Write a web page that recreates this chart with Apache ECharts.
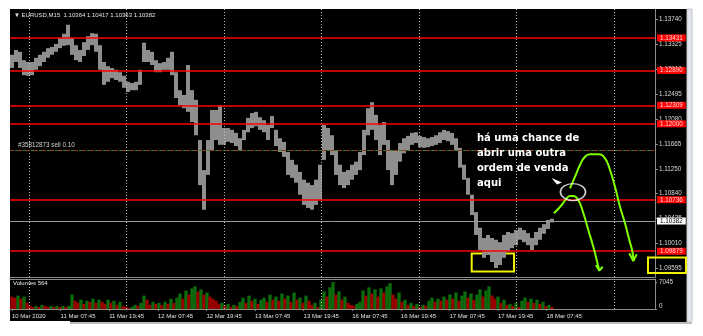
<!DOCTYPE html>
<html><head><meta charset="utf-8">
<script src="https://cdn.jsdelivr.net/npm/echarts@6/dist/echarts.min.js"></script>
<style>html,body{margin:0;padding:0;background:#fff}#c{width:703px;height:336px}</style>
</head><body><div id="c"></div>
<script>
// ---------- data ----------
const symbolTitle = '\u25BC EURUSD,M15  1.10364 1.10417 1.10363 1.10382';
const volumeTitle = 'Volumes 564';
const timeLabels = ['10 Mar 2020','11 Mar 07:45','11 Mar 19:45','12 Mar 07:45','12 Mar 19:45','13 Mar 07:45','13 Mar 19:45','16 Mar 07:45','16 Mar 19:45','17 Mar 07:45','17 Mar 19:45','18 Mar 07:45'];
const priceTicks = [1.09595,1.10010,1.10425,1.10840,1.11250,1.11665,1.12080,1.12495,1.12910,1.13325,1.13740];
const levelPrices = [1.13431,1.12890,1.12309,1.12000,1.10736,1.09879];
const currentPrice = 1.10382;
const orderPrice = 1.11553;
const orderLabel = '#35812873 sell 0.10';
const volumeTicks = [0,7045];

// sampled M15 bars (one sample every 4 bars): high / low
const priceHigh = [
1.1315,1.1323,1.1320,1.1306,1.1303,1.1303,1.1310,1.1315,1.1320,1.1326,
1.1328,1.1333,1.1343,1.1350,1.1365,1.1343,1.1331,1.1323,1.1336,1.1346,
1.1351,1.1350,1.1331,1.1303,1.1296,1.1293,1.1290,1.1286,1.1280,1.1270,
1.1268,1.1270,1.1290,1.1335,1.1323,1.1320,1.1306,1.1301,1.1303,1.1310,
1.1320,1.1286,1.1256,1.1248,1.1298,1.1256,1.1240,1.1173,1.1123,1.1173,
1.1223,1.1223,1.1231,1.1193,1.1193,1.1190,1.1185,1.1176,1.1190,1.1210,
1.1218,1.1220,1.1211,1.1206,1.1198,1.1213,1.1190,1.1176,1.1170,1.1153,
1.1140,1.1132,1.1120,1.1107,1.1102,1.1098,1.1107,1.1132,1.1198,1.1193,
1.1181,1.1156,1.1132,1.1120,1.1123,1.1132,1.1137,1.1153,1.1190,1.1226,
1.1236,1.1215,1.1198,1.1203,1.1173,1.1156,1.1156,1.1168,1.1176,1.1180,
1.1185,1.1186,1.1180,1.1178,1.1176,1.1178,1.1181,1.1186,1.1190,1.1188,
1.1185,1.1176,1.1160,1.1132,1.1110,1.1082,1.1053,1.1027,1.1010,1.1015,
1.1010,1.1007,1.1003,1.1015,1.1020,1.1018,1.1023,1.1027,1.1023,1.1018,
1.1010,1.1020,1.1027,1.1033,1.1040,1.1042];
const priceLow = [
1.1293,1.1303,1.1293,1.1281,1.1280,1.1281,1.1290,1.1296,1.1303,1.1310,
1.1315,1.1320,1.1326,1.1330,1.1331,1.1315,1.1306,1.1303,1.1313,1.1323,
1.1331,1.1320,1.1290,1.1265,1.1270,1.1276,1.1273,1.1270,1.1260,1.1253,
1.1256,1.1256,1.1265,1.1303,1.1303,1.1298,1.1286,1.1286,1.1290,1.1290,
1.1281,1.1243,1.1231,1.1226,1.1220,1.1203,1.1181,1.1098,1.1057,1.1115,
1.1156,1.1173,1.1165,1.1165,1.1170,1.1168,1.1163,1.1156,1.1173,1.1186,
1.1193,1.1196,1.1190,1.1186,1.1173,1.1193,1.1163,1.1153,1.1145,1.1115,
1.1110,1.1102,1.1082,1.1065,1.1060,1.1057,1.1065,1.1073,1.1140,1.1156,
1.1148,1.1115,1.1098,1.1093,1.1098,1.1107,1.1115,1.1123,1.1148,1.1181,
1.1190,1.1173,1.1148,1.1165,1.1123,1.1098,1.1115,1.1137,1.1151,1.1156,
1.1165,1.1168,1.1161,1.1160,1.1161,1.1163,1.1165,1.1168,1.1173,1.1171,
1.1165,1.1156,1.1127,1.1107,1.1082,1.1048,1.1015,1.0990,1.0977,1.0982,
1.0970,1.0960,1.0965,1.0977,1.0987,1.0993,1.0998,1.1007,1.1003,1.0998,
1.0990,1.0998,1.1007,1.1017,1.1025,1.1036];

// tick volumes (one sample every 3 bars)
const volumes = [
3240,2970,3510,2700,3240,1620,810,540,810,540,
1080,810,540,810,540,810,540,810,540,810,
3780,2160,1620,2430,1350,2160,1890,2700,1620,2430,
1890,1350,2430,1620,2160,1080,1890,810,540,270,
540,1080,810,1620,3510,2430,1080,1890,1350,1620,
1080,1890,1350,2700,1620,2970,4050,2700,4860,3780,
5400,5940,4590,5130,3780,4320,3240,2700,2160,1350,
1620,810,1350,540,1080,810,1890,2970,1620,3510,
2160,2700,1350,2430,2970,1890,3780,2430,3240,2160,
4050,2700,3510,1890,4320,2430,2970,1620,3510,2160,
1080,1620,540,2430,4590,3240,5670,7045,3780,4590,
2430,3240,1620,1080,810,1350,1890,4860,3510,5670,
4050,5130,3240,5400,4320,5940,6750,3780,2700,4320,
1890,2430,1080,1620,810,1350,540,1080,810,2160,
2970,1890,2700,2160,3240,2430,3780,2700,4320,2160,
3510,4590,2970,4050,2430,3780,5130,3240,4860,5940,
3510,2700,3240,1620,2430,1080,1350,810,1620,540,
2160,2970,1890,2700,1620,2430,1350,1890,810,1080,
540];

// hand-drawn forecast annotations, in (bar, price)
const forecastA = [[542,1.10510],[549.7,1.10649],[554.7,1.10760],[558,1.10799],[561.3,1.10799],[566.3,1.10732],[571.3,1.10515],[576.3,1.10233],[581.3,1.09955],[584.7,1.09733],[587.3,1.09560]];
const forecastAHead = [[584,1.09650],[587.3,1.09555],[590.7,1.09621]];
const forecastB = [[558,1.10927],[563,1.11120],[568,1.11315],[573,1.11453],[578,1.11493],[586.3,1.11493],[593,1.11426],[598,1.11231],[603,1.10953],[608,1.10620],[613,1.10344],[617.3,1.10066],[620.7,1.09845],[621.3,1.09720]];
const forecastBHead = [[617.3,1.09845],[621.3,1.09715],[624.7,1.09828]];
const sellZone = [[561,1.10865]];
const lowZone = [[459.7,1.09841],[502,1.09542]];
const noteText = 'h\u00e1 uma chance de\nabrir uma outra\nordem de venda\naqui';

// ---------- layout constants ----------
const priceStep = 4, volStep = 3, timeTickStep = 48.6;
const gridBars = [17,114.5,212,309.5,407,504.5,602];
const tickBars = timeLabels.map((_, k) => +(k * timeTickStep).toFixed(1));

const priceData = priceHigh.map((h, i) => [i * priceStep, priceLow[i], h]);
const volData = volumes.map((v, j) => [j * volStep, v]);

const FONT = 'Liberation Sans';
const vLines = gridBars.map(b => ({xAxis: b, lineStyle: {color: '#bdbdbd', width: 1, type: [1, 2]}, label: {show: false}}));
const levelLines = levelPrices.map(p => ({
  yAxis: p, lineStyle: {color: '#ff0000', width: 1.5, type: 'solid'},
  label: {show: true, position: 'end', distance: 2, formatter: p.toFixed(5), backgroundColor: '#ff0000',
          color: '#ffd8d8', fontSize: 6.3, fontFamily: FONT, padding: [1, 3, 0, 3]}
}));

const chart = echarts.init(document.getElementById('c'));
const option = {
  animation: false,
  backgroundColor: '#ffffff',
  textStyle: {fontFamily: FONT},
  title: [
    {text: symbolTitle, left: 14, top: 12, padding: 0, textStyle: {color: '#e6e6e6', fontSize: 6, fontWeight: 'normal', fontFamily: FONT}},
    {text: volumeTitle, left: 13, top: 280, padding: 0, textStyle: {color: '#e6e6e6', fontSize: 6, fontWeight: 'normal', fontFamily: FONT}}
  ],
  grid: [
    {left: 10, right: 48, top: 9, bottom: 59},
    {left: 10, right: 48, top: 279, bottom: 27}
  ],
  xAxis: [
    {gridIndex: 0, type: 'value', min: -2, max: 643, axisLine: {show: true, onZero: false, lineStyle: {color: '#8c8c8c'}},
     axisTick: {show: false}, axisLabel: {show: false}, splitLine: {show: false}},
    {gridIndex: 1, type: 'value', min: -2, max: 643, position: 'bottom',
     axisLine: {show: true, onZero: false, lineStyle: {color: '#8c8c8c'}},
     axisTick: {show: true, length: 2, customValues: tickBars, lineStyle: {color: '#8c8c8c'}},
     axisLabel: {customValues: tickBars, formatter: v => timeLabels[Math.round(v / timeTickStep)] || '',
                 align: 'left', margin: 4, color: '#e0e0e0', fontSize: 6, fontFamily: FONT},
     splitLine: {show: false}},
    {gridIndex: 1, type: 'value', min: -2, max: 643, position: 'top',
     axisLine: {show: true, onZero: false, lineStyle: {color: '#8c8c8c'}}, axisTick: {show: false}, axisLabel: {show: false}, splitLine: {show: false}}
  ],
  yAxis: [
    {gridIndex: 0, type: 'value', position: 'right', min: 1.0945, max: 1.13912,
     axisLine: {show: true, onZero: false, lineStyle: {color: '#8c8c8c'}},
     axisTick: {show: true, length: 3, customValues: priceTicks, lineStyle: {color: '#8c8c8c'}},
     axisLabel: {customValues: priceTicks, formatter: v => v.toFixed(5), color: '#dcdcdc', fontSize: 6.3, margin: 4, fontFamily: FONT},
     splitLine: {show: false}},
    {gridIndex: 1, type: 'value', position: 'right', min: 0, max: 7860,
     axisLine: {show: true, onZero: false, lineStyle: {color: '#8c8c8c'}},
     axisTick: {show: true, length: 2, customValues: volumeTicks, lineStyle: {color: '#8c8c8c'}},
     axisLabel: {customValues: volumeTicks, margin: 4,
                 formatter: v => v === 0 ? '{lo|0}' : '{hi|' + v + '}',
                 rich: {lo: {color: '#dcdcdc', fontSize: 6.3, fontFamily: FONT, padding: [0, 0, 6, 0]},
                        hi: {color: '#dcdcdc', fontSize: 6.3, fontFamily: FONT}}},
     splitLine: {show: false}}
  ],
  series: [
    {
      name: 'EURUSD', type: 'custom', xAxisIndex: 0, yAxisIndex: 0, z: 3,
      data: priceData, encode: {x: 0, y: [1, 2]},
      renderItem: function (params, api) {
        const x = api.value(0);
        const lo = api.coord([x, api.value(1)]);
        const hi = api.coord([x, api.value(2)]);
        return {type: 'rect', shape: {x: lo[0] - 2, y: hi[1], width: 4, height: Math.max(1, lo[1] - hi[1])},
                style: {fill: '#8e8e8e'}};
      },
      markLine: {
        silent: true, symbol: ['none', 'none'], precision: 6, animation: false, label: {show: false},
        data: vLines.concat(levelLines).concat([
          {yAxis: currentPrice, lineStyle: {color: '#9a9a9a', width: 1, type: 'solid'},
           label: {show: true, position: 'end', distance: 2, formatter: currentPrice.toFixed(5), backgroundColor: '#ffffff',
                   color: '#000000', fontSize: 6.3, fontFamily: FONT, padding: [1, 3, 0, 3]}},
          {yAxis: orderPrice, lineStyle: {color: '#9a3c14', width: 1, type: [4, 4]},
           label: {show: true, position: 'insideStartTop', distance: 2, formatter: orderLabel, color: '#cfcfcf', fontSize: 6.3, fontFamily: FONT, padding: [0, 0, 0, 6]}},
          {yAxis: orderPrice, lineStyle: {color: '#2f7a2f', width: 1, type: [3, 5], dashOffset: -5}, label: {show: false}}
        ])
      },
      markArea: {
        silent: true, precision: 6,
        itemStyle: {color: 'rgba(0,0,0,0)', borderColor: '#f2f200', borderWidth: 2},
        data: [[{xAxis: lowZone[0][0], yAxis: lowZone[0][1]}, {xAxis: lowZone[1][0], yAxis: lowZone[1][1]}]]
      }
    },
    {
      name: 'Volumes', type: 'bar', xAxisIndex: 1, yAxisIndex: 1, barWidth: 3.4, data: volData, z: 3,
      itemStyle: {color: p => (p.dataIndex > 0 && volumes[p.dataIndex] > volumes[p.dataIndex - 1]) ? '#0b6a0b' : '#9a0000'},
      markLine: {silent: true, symbol: ['none', 'none'], precision: 6, animation: false, label: {show: false}, data: vLines}
    },
    {type: 'line', xAxisIndex: 0, yAxisIndex: 0, data: forecastA, smooth: 0.5, symbol: 'none', z: 6,
     lineStyle: {color: '#7fff00', width: 2}},
    {type: 'line', xAxisIndex: 0, yAxisIndex: 0, data: forecastAHead, smooth: false, symbol: 'none', z: 6,
     lineStyle: {color: '#7fff00', width: 2}},
    {type: 'line', xAxisIndex: 0, yAxisIndex: 0, data: forecastB, smooth: 0.5, symbol: 'none', z: 6,
     lineStyle: {color: '#7fff00', width: 2}},
    {type: 'line', xAxisIndex: 0, yAxisIndex: 0, data: forecastBHead, smooth: false, symbol: 'none', z: 6,
     lineStyle: {color: '#7fff00', width: 2}},
    {type: 'scatter', xAxisIndex: 0, yAxisIndex: 0, data: sellZone, symbol: 'circle', symbolSize: [25, 17], z: 7,
     itemStyle: {color: 'rgba(0,0,0,0)', borderColor: '#ffffff', borderWidth: 1.5}}
  ],
  graphic: [
    {type: 'rect', z: -10, silent: true, shape: {x: 10, y: 9, width: 677, height: 313}, style: {fill: '#000000'}},
    {type: 'rect', z: -10, silent: true, shape: {x: 687, y: 9, width: 5, height: 313}, style: {fill: '#e2e6ea', stroke: '#c4c8cc', lineWidth: 1}},
    {type: 'rect', z: -10, silent: true, shape: {x: 10, y: 322, width: 682, height: 2}, style: {fill: '#bdbdbd'}},
    {type: 'rect', z: -9, silent: true, shape: {x: 10, y: 321, width: 60, height: 3}, style: {fill: '#ffffff'}},
    {type: 'rect', z: 50, silent: true, shape: {x: 648, y: 257.5, width: 38, height: 15.5}, style: {fill: 'none', stroke: '#f2f200', lineWidth: 2}},
    {type: 'polygon', z: 50, silent: true, shape: {points: [[551.5, 178], [562, 182.5], [557, 184.5]]}, style: {fill: '#ffffff'}},
    {type: 'text', z: 50, silent: true, x: 477, y: 131,
     style: {text: noteText, font: 'bold 10px "DejaVu Sans"', fill: '#ffffff', lineHeight: 15, verticalAlign: 'top'}}
  ]
};
chart.setOption(option);
</script>
</body></html>
